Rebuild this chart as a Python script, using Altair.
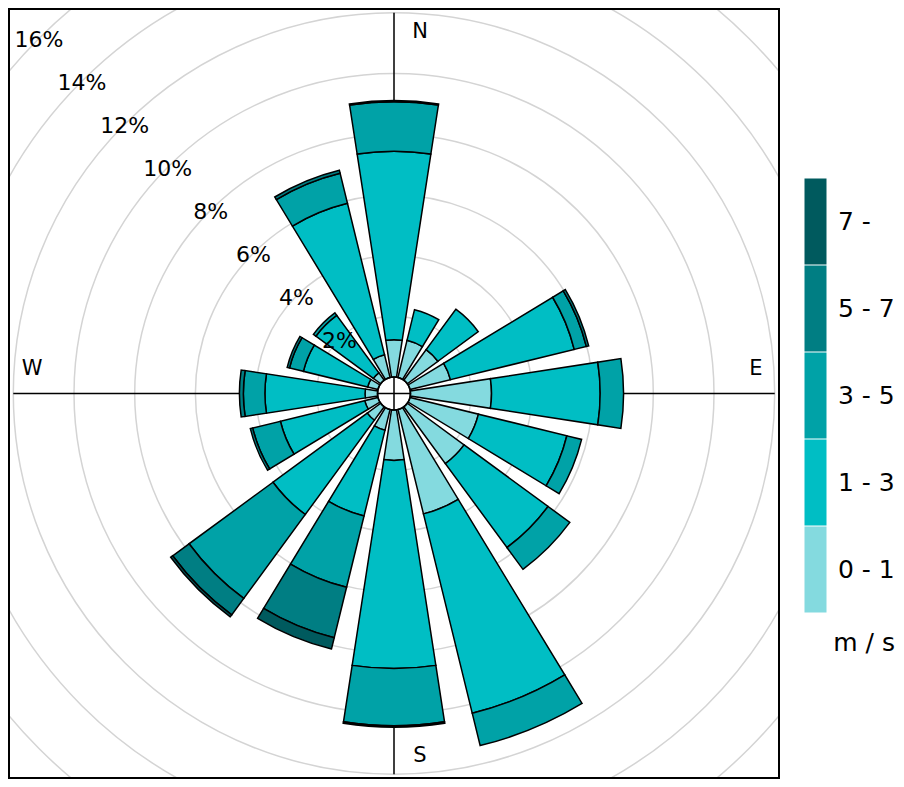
import math
import altair as alt
import pandas as pd

# ---------------- data ----------------
directions = ["N", "NNE", "NE", "ENE", "E", "ESE", "SE", "SSE",
              "S", "SSW", "SW", "WSW", "W", "WNW", "NW", "NNW"]
speed_bands = ["0 - 1", "1 - 3", "3 - 5", "5 - 7", "7 -"]
band_colors = ["#84dadf", "#00bec4", "#00a2a7", "#007e83", "#005a5e"]

# frequency (%) of each speed band per direction
freq_0_1 = [1.23, 1.26, 1.25, 1.37, 2.67, 2.32, 2.32, 3.54, 1.66, 0.70, 0.55, 0.45, 0.41, 0.35, 0.30, 0.77]
freq_1_3 = [6.21, 1.04, 1.65, 4.20, 3.58, 3.00, 3.43, 6.76, 6.86, 2.91, 3.85, 2.86, 3.30, 2.18, 2.35, 5.14]
freq_3_5 = [1.63, 0.00, 0.00, 0.41, 0.77, 0.50, 0.89, 1.10, 1.88, 2.42, 3.43, 0.94, 0.71, 0.47, 0.10, 1.02]
freq_5_7 = [0.04, 0.00, 0.00, 0.08, 0.00, 0.00, 0.00, 0.00, 0.05, 1.71, 0.67, 0.08, 0.13, 0.08, 0.00, 0.10]
freq_7_up = [0.00, 0.00, 0.00, 0.00, 0.00, 0.00, 0.00, 0.00, 0.00, 0.38, 0.08, 0.00, 0.00, 0.00, 0.00, 0.00]

grid_pcts = [2, 4, 6, 8, 10, 12, 14, 16, 18]
grid_labels = ["2%", "4%", "6%", "8%", "10%", "12%", "14%", "16%", "18%"]

compass_ns = ["N", "S"]
compass_ns_deg = [0, 180]
compass_ew = ["E", "W"]
compass_ew_deg = [90, 270]
axis_deg = [0, 90, 180, 270]

# ---------------- tables ----------------
step = 360 / len(directions)
half = 8.75
band_vals = [freq_0_1, freq_1_3, freq_3_5, freq_5_7, freq_7_up]
rows = []
for i, d in enumerate(directions):
    base = 0.0
    for band, vals in zip(speed_bands, band_vals):
        v = vals[i]
        if v > 0:
            rows.append({"direction": d, "band": band,
                         "a0": i * step - half, "a1": i * step + half,
                         "r0": base, "r1": base + v})
        base += v
bars_df = pd.DataFrame(rows)

grid_df = pd.DataFrame({"pct": grid_pcts, "label": grid_labels})
axis_df = pd.DataFrame({"ang": axis_deg})
ns_df = pd.DataFrame({"ang": compass_ns_deg, "label": compass_ns})
ew_df = pd.DataFrame({"ang": compass_ew_deg, "label": compass_ew})
center_df = pd.DataFrame({"pct": [0]})

W, H = 772, 771
theta_scale = alt.Scale(domain=[0, 360], range=[0, 2 * math.pi])
r_scale = alt.Scale(type="linear", domain=[0, 12], range=[16.5, 380.7])
FONT = "DejaVu Sans"

legend_order = speed_bands[::-1]
legend_colors = band_colors[::-1]

frame = alt.Chart(center_df).mark_rect(filled=False, stroke="black", strokeWidth=2).encode(
    x=alt.value(1), x2=alt.value(W - 1), y=alt.value(1), y2=alt.value(H - 1),
)

grid = alt.Chart(grid_df).mark_arc(filled=False, stroke="#d4d4d4", strokeWidth=1.5, clip=True).encode(
    theta=alt.value(0), theta2=alt.value(2 * math.pi),
    radius=alt.Radius("pct:Q", scale=r_scale, stack=None),
)

cross = alt.Chart(axis_df).mark_arc(filled=False, stroke="black", strokeWidth=1.5).encode(
    theta=alt.Theta("ang:Q", scale=theta_scale, stack=None),
    theta2="ang:Q",
    radius=alt.datum(12),
    radius2=alt.value(0),
)

bars = alt.Chart(bars_df).mark_arc(stroke="black", strokeWidth=1.5).encode(
    theta=alt.Theta("a0:Q", scale=theta_scale, stack=None),
    theta2="a1:Q",
    radius=alt.Radius("r1:Q", scale=r_scale, stack=None),
    radius2="r0:Q",
    color=alt.Color(
        "band:N",
        scale=alt.Scale(domain=legend_order, range=legend_colors),
        legend=alt.Legend(
            title="m / s", orient="none", legendX=795, legendY=201,
            symbolType="M-1,-3.909H1V3.909H-1Z", symbolSize=484,
            symbolStrokeWidth=0, symbolOpacity=1, rowPadding=0, padding=0,
            labelOffset=10, labelFont=FONT, labelFontSize=25, labelColor="black",
            titleFont=FONT, titleFontSize=25, titleFontWeight="normal", titleColor="black",
            titleOrient="bottom", titleAnchor="end", titlePadding=19,
        ),
    ),
)

center = alt.Chart(center_df).mark_arc(filled=False, stroke="black", strokeWidth=1.5).encode(
    theta=alt.value(0), theta2=alt.value(2 * math.pi),
    radius=alt.Radius("pct:Q", scale=r_scale, stack=None),
)

pct_text = alt.Chart(grid_df).mark_text(font=FONT, fontSize=22, color="black", dy=2).encode(
    theta=alt.datum(315),
    radius=alt.Radius("pct:Q", scale=r_scale, stack=None),
    text="label:N",
)

ns_text = alt.Chart(ns_df).mark_text(font=FONT, fontSize=21, color="black", dx=26).encode(
    theta=alt.Theta("ang:Q", scale=theta_scale, stack=None),
    radius=alt.value(362),
    text="label:N",
)

ew_text = alt.Chart(ew_df).mark_text(font=FONT, fontSize=21, color="black", dy=-25).encode(
    theta=alt.Theta("ang:Q", scale=theta_scale, stack=None),
    radius=alt.value(362),
    text="label:N",
)

chart = alt.layer(grid, frame, cross, bars, center, pct_text, ns_text, ew_text).properties(
    width=W, height=H,
    autosize=alt.AutoSizeParams(type="none"),
    padding={"left": 0, "top": 0, "right": 116, "bottom": 0},
    background="white",
).configure_view(stroke=None)

chart.save("out.html", embed_options={"renderer": "svg", "actions": False})
